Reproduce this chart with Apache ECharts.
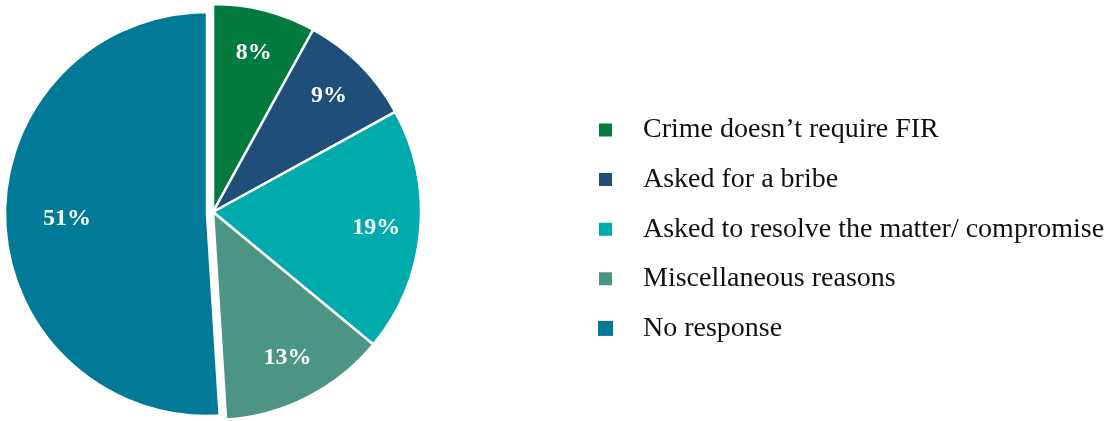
<!DOCTYPE html>
<html>
<head>
<meta charset="utf-8">
<script src="https://cdn.jsdelivr.net/npm/echarts@6/dist/echarts.min.js"></script>
<style>
  html, body { margin: 0; padding: 0; background: #ffffff; }
  #chart { width: 1112px; height: 421px; }
</style>
</head>
<body>
<div id="chart"></div>
<script>
const categories = [
  'Crime doesn\u2019t require FIR',
  'Asked for a bribe',
  'Asked to resolve the matter/ compromise',
  'Miscellaneous reasons',
  'No response'
];
const values = [8, 9, 19, 13, 51];
const colors = ['#037B3F', '#1F4F78', '#00ABAD', '#4C9483', '#017A98'];
const explodedIndex = 4; // "No response" slice is pulled out

const chart = echarts.init(document.getElementById('chart'), null, { renderer: 'canvas' });

function makeData(showFn, withLabel) {
  return categories.map((name, i) => {
    const show = showFn(i);
    return {
      name: name,
      value: values[i],
      itemStyle: {
        color: show && !withLabel ? colors[i] : 'rgba(0,0,0,0)',
        borderColor: show && !withLabel ? '#ffffff' : 'rgba(0,0,0,0)',
        borderWidth: show && !withLabel ? 2.5 : 0
      },
      label: { show: withLabel && show }
    };
  });
}

const labelStyle = {
  position: 'inside',
  formatter: '{c}%',
  color: '#ffffff',
  fontFamily: 'Liberation Serif',
  fontWeight: 'bold',
  fontSize: 24
};

const common = {
  type: 'pie',
  startAngle: 90,
  clockwise: true,
  silent: true,
  animation: false,
  labelLine: { show: false },
  emphasis: { disabled: true }
};

const option = {
  backgroundColor: '#ffffff',
  animation: false,
  legend: {
    orient: 'vertical',
    left: 597,
    top: 116,
    padding: 0,
    icon: 'rect',
    itemWidth: 15,
    itemHeight: 15,
    itemGap: 21.6,
    selectedMode: false,
    textStyle: {
      fontFamily: 'Liberation Serif',
      fontSize: 28,
      color: '#111111',
      lineHeight: 28,
      padding: [0, 0, 0, 25]
    },
    data: categories.map((name, i) => ({ name: name, itemStyle: { color: colors[i] } }))
  },
  series: [
    Object.assign({}, common, {
      name: 'main',
      center: [213, 212],
      radius: [0, 208],
      label: { show: false },
      data: makeData(i => i !== explodedIndex, false)
    }),
    Object.assign({}, common, {
      name: 'exploded',
      center: [207, 214],
      radius: [0, 202],
      label: { show: false },
      data: makeData(i => i === explodedIndex, false)
    }),
    Object.assign({}, common, {
      name: 'labels-main',
      center: [213, 212],
      radius: [0, 322],
      label: labelStyle,
      data: makeData(i => i !== explodedIndex, true)
    }),
    Object.assign({}, common, {
      name: 'labels-exploded',
      center: [207, 214],
      radius: [0, 274],
      label: labelStyle,
      data: makeData(i => i === explodedIndex, true)
    })
  ]
};

chart.setOption(option);
</script>
</body>
</html>
